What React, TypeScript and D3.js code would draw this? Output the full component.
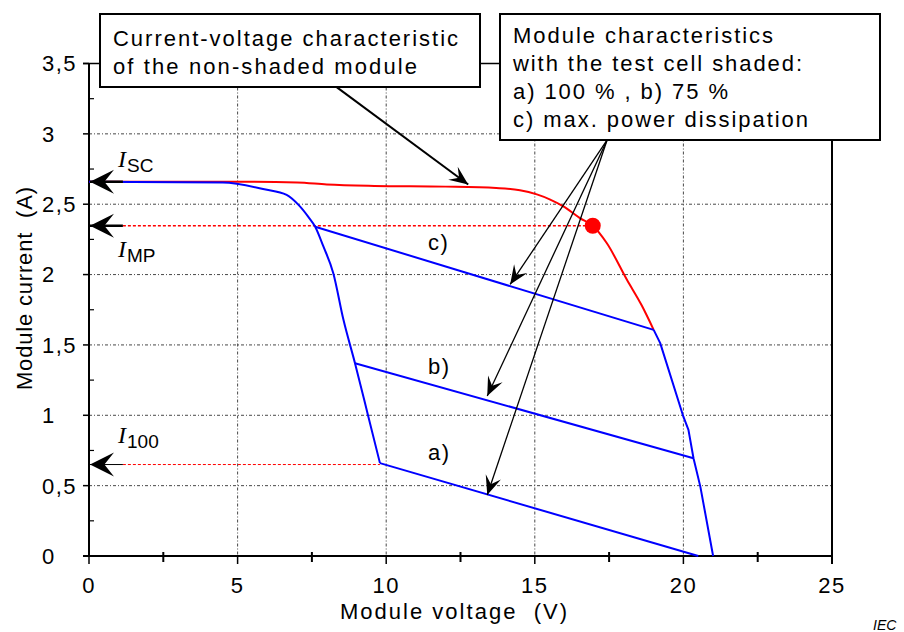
import React, { useEffect, useRef } from 'react'
import * as d3 from 'd3'

// axes
const xTicks = [0, 5, 10, 15, 20, 25]
const xMinor = [2.5, 7.5, 12.5, 17.5, 22.5]
const yTicks = [0, 0.5, 1, 1.5, 2, 2.5, 3, 3.5]
const yTickLabels = ['0', '0,5', '1', '1,5', '2', '2,5', '3', '3,5']
const yMinor = [0.25, 0.75, 1.25, 1.75, 2.25, 2.75, 3.25]

// non-shaded module I-V curve (red)
const redV = [0, 4.7, 7.0, 8.0, 9.6, 12.0, 13.7, 14.5, 15.07, 15.5, 15.96, 16.53, 16.95, 17.42, 18.1, 18.6, 19.0]
const redI = [2.66, 2.66, 2.655, 2.64, 2.63, 2.625, 2.615, 2.6, 2.57, 2.535, 2.485, 2.4, 2.347, 2.224, 1.963, 1.78, 1.607]

// shaded module curves (blue)
const blueLeftV = [0, 4.5, 5.9, 6.65, 7.05, 7.38, 7.61, 7.89, 8.22, 8.56, 8.95, 9.4, 9.79]
const blueLeftI = [2.66, 2.655, 2.606, 2.566, 2.495, 2.41, 2.34, 2.198, 2.01, 1.68, 1.37, 0.99, 0.66]
const blueRightV = [19.0, 19.22, 20.0, 20.17, 20.34, 20.57, 21.0]
const blueRightI = [1.607, 1.513, 0.99, 0.896, 0.695, 0.493, 0]
const branchAV = [9.79, 20.5]
const branchAI = [0.66, 0]
const branchBV = [8.95, 20.34]
const branchBI = [1.37, 0.695]
const branchCV = [7.61, 19.0]
const branchCI = [2.34, 1.607]

// characteristic currents
const iSC = 2.66
const iMP = 2.347
const i100 = 0.65
const vMP = 16.95
const arrowStartV = 1.14

// annotation arrows (data units)
const box1ArrowFrom = [8.31, 3.336]
const box1ArrowTo = [12.76, 2.64]
const box2ArrowFrom = [17.43, 2.955]
const box2ArrowTo = [[14.17, 1.93], [13.4, 1.137], [13.4, 0.434]]

const branchLabels = ['c)', 'b)', 'a)']
const branchLabelI = [2.175, 1.29, 0.68]
const branchLabelV = 11.41

const box1Lines = ['Current-voltage characteristic', 'of the non-shaded module']
const box1Widths = [345, 304]
const box2Lines = ['Module characteristics', 'with the test cell shaded:', 'a) 100 % , b) 75 %', 'c) max. power dissipation']
const box2Widths = [260, 289, 215, 295]

const SANS = '"Liberation Sans", Arial, sans-serif'
const SERIF = '"Liberation Serif", "Times New Roman", serif'

function App() {
  const ref = useRef<SVGSVGElement>(null)
  useEffect(() => {
    const svg = d3.select(ref.current)
    svg.selectAll('*').remove()
    const W = 904, H = 632
    svg.attr('width', W).attr('height', H)
    const x = d3.scaleLinear().domain([0, 25]).range([89, 832])
    const y = d3.scaleLinear().domain([0, 3.5]).range([556, 63.5])

    const defs = svg.append('defs')
    const mk = (id: string, len: number, half: number) => {
      defs.append('marker')
        .attr('id', id)
        .attr('markerUnits', 'userSpaceOnUse')
        .attr('viewBox', `${-len - 1} ${-half - 1} ${len + 2} ${half * 2 + 2}`)
        .attr('markerWidth', len + 2)
        .attr('markerHeight', half * 2 + 2)
        .attr('refX', 0).attr('refY', 0)
        .attr('orient', 'auto')
        .append('path')
        .attr('d', `M0,0 L${-len},${-half} L${-len * 0.6},0 L${-len},${half} Z`)
        .attr('fill', '#000')
    }
    mk('headBig', 24, 12)
    mk('headSmall', 19, 8)

    svg.append('rect').attr('width', W).attr('height', H).attr('fill', '#fff')

    // grid
    const grid = svg.append('g').attr('stroke', '#333').attr('stroke-width', 0.9).attr('stroke-dasharray', '3,2,1,2')
    grid.selectAll('.gx').data(xTicks.slice(1, -1)).enter().append('line')
      .attr('x1', d => x(d)).attr('x2', d => x(d)).attr('y1', y(3.5)).attr('y2', y(0))
    grid.selectAll('.gy').data(yTicks.slice(1, -1)).enter().append('line')
      .attr('x1', x(0)).attr('x2', x(25)).attr('y1', d => y(d)).attr('y2', d => y(d))

    // frame
    const frame = svg.append('g').attr('stroke', '#000').attr('fill', 'none')
    frame.append('line').attr('x1', x(0) - 6).attr('x2', x(25)).attr('y1', y(3.5)).attr('y2', y(3.5)).attr('stroke-width', 1.5)
    frame.append('line').attr('x1', x(0)).attr('x2', x(0)).attr('y1', y(3.5)).attr('y2', y(0) + 1).attr('stroke-width', 2)
    frame.append('line').attr('x1', x(25)).attr('x2', x(25)).attr('y1', y(3.5)).attr('y2', y(0) + 8).attr('stroke-width', 2)
    frame.append('line').attr('x1', x(0) - 6).attr('x2', x(25)).attr('y1', y(0)).attr('y2', y(0)).attr('stroke-width', 2)
    frame.selectAll('.xt').data(xTicks).enter().append('line')
      .attr('x1', d => x(d)).attr('x2', d => x(d)).attr('y1', y(0)).attr('y2', y(0) + 8).attr('stroke-width', 1.5)
    frame.selectAll('.xm').data(xMinor).enter().append('line')
      .attr('x1', d => x(d)).attr('x2', d => x(d)).attr('y1', y(0) - 4).attr('y2', y(0) + 6).attr('stroke-width', 2)
    frame.selectAll('.yt').data(yTicks).enter().append('line')
      .attr('x1', x(0) - 6).attr('x2', x(0)).attr('y1', d => y(d)).attr('y2', d => y(d)).attr('stroke-width', 1.5)
    frame.selectAll('.ym').data(yMinor).enter().append('line')
      .attr('x1', x(0)).attr('x2', x(0) + 5).attr('y1', d => y(d)).attr('y2', d => y(d)).attr('stroke-width', 1.2)

    // tick labels
    svg.selectAll('.xl').data(xTicks).enter().append('text')
      .attr('x', d => x(d)).attr('y', 593)
      .attr('text-anchor', 'middle').attr('font-family', SANS).attr('font-size', 22).attr('letter-spacing', 1.5)
      .text(d => String(d))
    svg.selectAll('.yl').data(yTicks).enter().append('text')
      .attr('x', 42).attr('y', d => y(d)).attr('dy', '0.36em')
      .attr('font-family', SANS).attr('font-size', 22).attr('letter-spacing', 1.5)
      .text((d, i) => yTickLabels[i])

    // axis titles
    svg.append('text').attr('x', 340).attr('y', 619)
      .attr('font-family', SANS).attr('font-size', 22).attr('textLength', 227).attr('lengthAdjust', 'spacing')
      .style('white-space', 'pre').text('Module voltage  (V)')
    svg.append('text').attr('transform', 'translate(32, 390) rotate(-90)')
      .attr('font-family', SANS).attr('font-size', 22).attr('textLength', 203).attr('lengthAdjust', 'spacing')
      .style('white-space', 'pre').text('Module current  (A)')

    // dotted reference lines
    svg.append('line').attr('x1', x(arrowStartV)).attr('x2', x(vMP)).attr('y1', y(iMP)).attr('y2', y(iMP))
      .attr('stroke', '#ff0000').attr('stroke-width', 1.5).attr('stroke-dasharray', '3,2')
    svg.append('line').attr('x1', x(arrowStartV)).attr('x2', x(blueLeftV[blueLeftV.length - 1])).attr('y1', y(i100)).attr('y2', y(i100))
      .attr('stroke', '#ff0000').attr('stroke-width', 1).attr('stroke-dasharray', '3,2')

    const path = (vs: number[], is: number[], smooth = false) => {
      const l = d3.line<[number, number]>().x(d => x(d[0])).y(d => y(d[1]))
      if (smooth) l.curve(d3.curveMonotoneX)
      return l(vs.map((v, i) => [v, is[i]]) as [number, number][])
    }

    svg.append('path').attr('d', path(redV, redI, true)).attr('fill', 'none').attr('stroke', '#ff0000').attr('stroke-width', 2)
    const blue = svg.append('g').attr('fill', 'none').attr('stroke', '#0000ff').attr('stroke-width', 2).attr('stroke-linejoin', 'round')
    blue.append('path').attr('d', path(blueLeftV, blueLeftI, true))
    blue.append('path').attr('d', path(blueRightV, blueRightI))
    blue.append('path').attr('d', path(branchAV, branchAI))
    blue.append('path').attr('d', path(branchBV, branchBI))
    blue.append('path').attr('d', path(branchCV, branchCI))

    // maximum power point
    svg.append('circle').attr('cx', x(vMP)).attr('cy', y(iMP)).attr('r', 8).attr('fill', '#ff0000')

    // current arrows to y axis
    const arr = svg.append('g').attr('stroke', '#000').attr('stroke-width', 2)
    ;[iSC, iMP, i100].forEach((c, k) => {
      arr.append('line').attr('x1', x(arrowStartV)).attr('x2', x(0) + 1).attr('y1', y(c)).attr('y2', y(c))
        .attr('stroke-width', k === 2 ? 1 : 2.5)
        .attr('marker-end', 'url(#headBig)')
    })

    // I labels
    const iLabels = [['SC', 2.765], ['MP', 2.127], ['100', 0.805]]
    iLabels.forEach(([sub, v]) => {
      const t = svg.append('text').attr('x', 118).attr('y', y(v as number))
      t.append('tspan').attr('font-family', SERIF).attr('font-style', 'italic').attr('font-size', 24).text('I')
      t.append('tspan').attr('font-family', SANS).attr('font-size', 19).attr('dy', 5).attr('dx', 1).text(sub as string)
    })

    // branch labels
    svg.selectAll('.bl').data(branchLabels).enter().append('text')
      .attr('x', x(branchLabelV)).attr('y', (d, i) => y(branchLabelI[i]))
      .attr('font-family', SANS).attr('font-size', 22).attr('letter-spacing', 1.5)
      .text(d => d)

    // annotation arrows
    svg.append('line')
      .attr('x1', x(box1ArrowFrom[0])).attr('y1', y(box1ArrowFrom[1]))
      .attr('x2', x(box1ArrowTo[0])).attr('y2', y(box1ArrowTo[1]))
      .attr('stroke', '#000').attr('stroke-width', 2).attr('marker-end', 'url(#headSmall)')
    svg.selectAll('.ba').data(box2ArrowTo).enter().append('line')
      .attr('x1', x(box2ArrowFrom[0])).attr('y1', y(box2ArrowFrom[1]))
      .attr('x2', d => x(d[0])).attr('y2', d => y(d[1]))
      .attr('stroke', '#000').attr('stroke-width', 1.3).attr('marker-end', 'url(#headSmall)')

    // text boxes
    svg.append('rect').attr('x', 100).attr('y', 14).attr('width', 380).attr('height', 73)
      .attr('fill', '#fff').attr('stroke', '#000').attr('stroke-width', 2)
    box1Lines.forEach((s, i) => {
      svg.append('text').attr('x', 113).attr('y', 45.5 + i * 28)
        .attr('font-family', SANS).attr('font-size', 22)
        .attr('textLength', box1Widths[i]).attr('lengthAdjust', 'spacing').text(s)
    })
    svg.append('rect').attr('x', 500).attr('y', 14).attr('width', 380).attr('height', 126)
      .attr('fill', '#fff').attr('stroke', '#000').attr('stroke-width', 2)
    box2Lines.forEach((s, i) => {
      svg.append('text').attr('x', 513).attr('y', 43 + i * 28)
        .attr('font-family', SANS).attr('font-size', 22)
        .style('white-space', 'pre')
        .attr('textLength', box2Widths[i]).attr('lengthAdjust', 'spacing').text(s)
    })

    svg.append('text').attr('x', 873).attr('y', 630)
      .attr('font-family', SANS).attr('font-style', 'italic').attr('font-size', 14).text('IEC')
  }, [])

  return (
    <svg ref={ref} style={{ position: 'absolute', left: 0, top: 0 }} />
  )
}

export default App
